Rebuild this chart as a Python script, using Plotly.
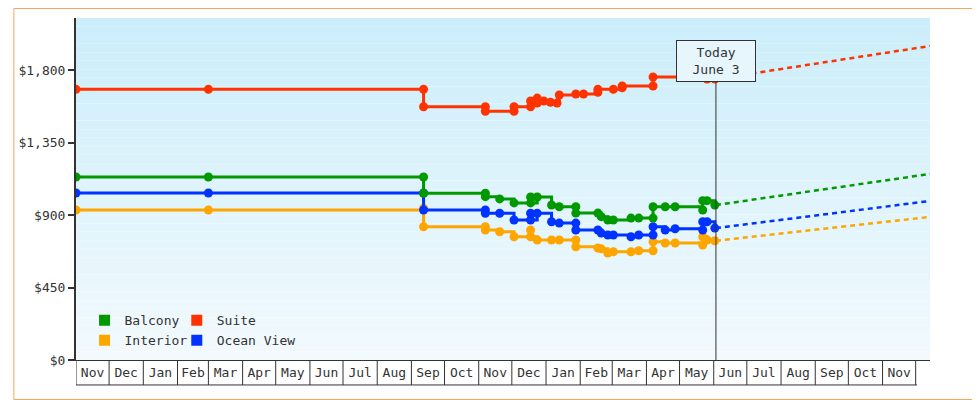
import plotly.graph_objects as go

# Price history (step changes)
dates_suite = ["2022-11-01", "2023-03-01", "2023-09-12", "2023-09-12", "2023-11-07", "2023-11-07",
               "2023-12-03", "2023-12-03", "2023-12-18", "2023-12-18", "2023-12-24", "2023-12-24",
               "2023-12-30", "2024-01-05", "2024-01-11", "2024-01-13", "2024-01-28", "2024-02-04",
               "2024-02-17", "2024-02-17", "2024-03-02", "2024-03-10", "2024-03-10", "2024-04-07",
               "2024-04-07", "2024-05-26", "2024-06-02"]
suite = [1680, 1680, 1680, 1572, 1572, 1544, 1544, 1572, 1572, 1608, 1626, 1595, 1608, 1600,
         1595, 1645, 1651, 1651, 1662, 1680, 1680, 1690, 1701, 1701, 1757, 1744, 1744]

dates_other = ["2022-11-01", "2023-03-01", "2023-09-12", "2023-09-12", "2023-11-07", "2023-11-07",
               "2023-11-20", "2023-12-03", "2023-12-18", "2023-12-18", "2023-12-24", "2024-01-06",
               "2024-01-13", "2024-01-28", "2024-01-28", "2024-02-17", "2024-02-20", "2024-02-26",
               "2024-03-02", "2024-03-18", "2024-03-25", "2024-04-07", "2024-04-07", "2024-04-18",
               "2024-04-27", "2024-05-22", "2024-05-22", "2024-05-26", "2024-06-02"]
balcony = [1136, 1136, 1136, 1035, 1035, 1014, 1000, 975, 1012, 975, 1012, 962,
           951, 951, 912, 912, 890, 869, 869, 881, 881, 881, 951, 951,
           951, 931, 989, 989, 962]
ocean = [1037, 1037, 1037, 931, 931, 911, 911, 869, 911, 869, 911, 858,
         850, 850, 807, 807, 788, 776, 776, 765, 776, 776, 827, 807,
         815, 807, 858, 858, 819]
interior = [931, 931, 942, 827, 827, 807, 796, 765, 807, 765, 745, 745,
            745, 745, 703, 695, 690, 664, 672, 672, 678, 678, 734, 726,
            726, 714, 765, 745, 740]

# Forecast (dashed)
fc_dates = ["2024-06-03", "2024-12-14"]
fc = {"Suite": [1744, 1949], "Balcony": [962, 1155], "Ocean View": [819, 987], "Interior": [740, 888]}

y_ticks = [0, 450, 900, 1350, 1800]
y_labels = ["$0", "$450", "$900", "$1,350", "$1,800"]

colors = {"Balcony": "#009900", "Suite": "#ff3300", "Interior": "#ffa500", "Ocean View": "#0033ff"}
series = [("Interior", dates_other, interior), ("Ocean View", dates_other, ocean),
          ("Balcony", dates_other, balcony), ("Suite", dates_suite, suite)]
months = ["2022-%02d-01" % m for m in (11, 12)] + ["2023-%02d-01" % m for m in range(1, 13)] + \
         ["2024-%02d-01" % m for m in range(1, 13)]

font = "DejaVu Sans Mono"
fig = go.Figure()

# gradient background
top, bot = (204, 238, 250), (242, 250, 254)
n = 40
for i in range(n):
    t = i / (n - 1)
    c = tuple(int(top[k] + (bot[k] - top[k]) * t) for k in range(3))
    fig.add_shape(type="rect", xref="paper", yref="paper", x0=0, x1=1,
                  y0=1 - (i + 1) / n, y1=1 - i / n, fillcolor="rgb(%d,%d,%d)" % c,
                  line_width=0, layer="below")

for name, d, v in series:
    fig.add_trace(go.Scatter(x=d, y=v, mode="lines+markers", line=dict(color=colors[name], width=3, shape="hv"),
                             marker=dict(size=9, color=colors[name]), showlegend=False, hoverinfo="x+y", name=name))
    fig.add_trace(go.Scatter(x=fc_dates, y=fc[name], mode="lines", line=dict(color=colors[name], width=2.5, dash="5px,4px"),
                             showlegend=False, hoverinfo="skip"))

# legend entries
for name, lg in [("Balcony", "legend"), ("Interior", "legend"), ("Suite", "legend2"), ("Ocean View", "legend2")]:
    fig.add_trace(go.Scatter(x=[None], y=[None], mode="markers", name=name, legend=lg,
                             marker=dict(symbol="square", size=11, color=colors[name])))

# month strip under the axis
for m in months:
    fig.add_shape(type="line", xref="x", yref="paper", x0=m, x1=m, y0=0, y1=-0.073,
                  line=dict(color="#333", width=1))
fig.add_shape(type="line", xref="paper", yref="paper", x0=0, x1=(917 - 71) / 859, y0=-0.073, y1=-0.073,
              line=dict(color="#333", width=1))

# today marker
fig.add_shape(type="line", xref="x", yref="paper", x0="2024-06-03", x1="2024-06-03", y0=0, y1=0.877,
              line=dict(color="#333", width=1))
fig.add_annotation(x="2024-06-03", y=(360 - 40) / 342, xref="x", yref="paper", text="Today<br>June 3",
                   showarrow=False, bordercolor="#333", borderwidth=1, borderpad=4, bgcolor="#e6f6fc",
                   font=dict(family=font, size=13, color="#333"), width=70)

# outer border
fig.add_shape(type="rect", xref="paper", yref="paper", x0=-62.5 / 859, x1=908.5 / 859,
              y0=-39.5 / 342, y1=351.5 / 342, line=dict(color="#f0a860", width=1))

legend_common = dict(bgcolor="rgba(0,0,0,0)", font=dict(family=font, size=13, color="#333"),
                     itemwidth=30, tracegroupgap=0, xanchor="left", yanchor="top")
fig.update_layout(
    width=972, height=392,
    margin=dict(l=63, r=50, t=10, b=40),
    paper_bgcolor="white", plot_bgcolor="rgba(0,0,0,0)",
    font=dict(family=font, size=13, color="#333"),
    legend=dict(x=0.01, y=0.16, **legend_common),
    legend2=dict(x=0.118, y=0.16, **legend_common),
    xaxis=dict(type="date", range=["2022-11-01", "2024-12-14"], dtick="M1", tickformat="%b",
               ticklabelmode="period", showgrid=False, ticks="", showline=True, linecolor="#333",
               linewidth=1, zeroline=False),
    yaxis=dict(range=[0, 2123], tickvals=y_ticks, ticktext=y_labels,
               showgrid=False, zeroline=False, showline=True, linecolor="#333", linewidth=2,
               ticks="outside", ticklen=6, tickcolor="#333", tickwidth=2),
)
fig.write_html("out.html")
